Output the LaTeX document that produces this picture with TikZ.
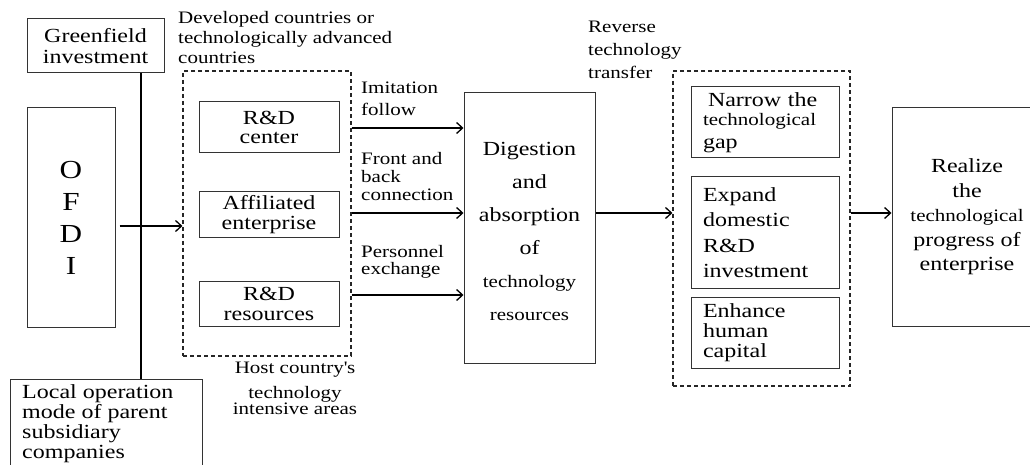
\documentclass[tikz,border=0pt]{standalone}
\usepackage{fontspec}
\setmainfont{Liberation Serif}[FakeStretch=1.2]
\usetikzlibrary{arrows.meta,calc}

\begin{document}
\begin{tikzpicture}[x=1pt,y=-1pt,
  box/.style={draw=black!80, line width=1pt, inner sep=0pt, align=center},
  area/.style={draw=black!85, line width=1.1pt, dash pattern=on 4pt off 3pt, inner sep=0pt},
  arr/.style={line width=1.4pt, -{Straight Barb[length=6pt,width=11pt,line width=1.3pt]}},
  lbl/.style={font=\fontsize{17.5}{20}\selectfont, inner sep=0pt, align=left, anchor=west},
]
\useasboundingbox (0,0) rectangle (1030,465);

% ---- left column: investment modes and OFDI
\node[box, minimum width=137, minimum height=54, font=\fontsize{20}{21}\selectfont]
  (green) at (95.5,46) {Greenfield\\investment};
\node[box, minimum width=88, minimum height=219, font=\fontsize{26}{32}\selectfont]
  (ofdi) at (71,217.5) {O\\F\\D\\I};
\node[box, minimum width=192, minimum height=100, anchor=north west] (local) at (10,379) {};
\node[anchor=north west, inner sep=0pt, align=left, font=\fontsize{20}{20.3}\selectfont]
  (localtext) at (22,384) {Local operation\\mode of parent\\subsidiary\\companies};
\coordinate (vx) at (141,0);
\draw[line width=1.4pt] (green.south -| vx) -- (local.north -| vx);

% ---- host country area
\node[area, minimum width=168, minimum height=285] (host) at (267,213.5) {};
\node[lbl] (devtxt) at (178,38) {Developed countries or\\technologically advanced\\countries};
\node[box, minimum width=140, minimum height=51, font=\fontsize{20}{18.5}\selectfont]
  (rdc) at (269,127.5) {R\&D\\center};
\node[box, minimum width=140, minimum height=45, font=\fontsize{20}{20}\selectfont]
  (aff) at (269,214.5) {Affiliated\\enterprise};
\node[box, minimum width=140, minimum height=45, font=\fontsize{20}{20}\selectfont]
  (res) at (269,303.5) {R\&D\\resources};
\node[font=\fontsize{17.5}{20}\selectfont, inner sep=0pt, align=center]
  (hosttxt) at (295,388) {Host country\textquotesingle s\\[5pt]technology\\[-4pt]intensive areas};

% ---- channels
\node[lbl] (imit) at (361,98.5) {Imitation\\[2pt]follow};
\node[lbl] (front) at (361,177) {Front and\\[-2pt]back\\[-2pt]connection};
\node[lbl] (pers) at (361,261.5) {Personnel\\[-3pt]exchange};

\node[box, minimum width=131, minimum height=270, font=\fontsize{20}{33}\selectfont]
  (dig) at (529.5,228) {\rule{0pt}{20pt}Digestion\\and\\absorption\\of\\{\fontsize{17.5}{33}\selectfont technology}\\{\fontsize{17.5}{33}\selectfont resources}};

\node[lbl] (rev) at (588,50) {Reverse\\[3pt]technology\\[3pt]transfer};

% ---- effects
\node[area, minimum width=177, minimum height=315] (tech) at (761.5,228.5) {};
\node[box, minimum width=148, minimum height=71, text width=124, align=left, font=\fontsize{20}{20}\selectfont]
  (narrow) at (765,122.5) {\hspace*{5pt}Narrow the\\[-1pt]{\fontsize{17.5}{20}\selectfont technological}\\[3pt]gap};
\node[box, minimum width=148, minimum height=111, text width=124, align=left, font=\fontsize{20}{25.5}\selectfont]
  (expand) at (765,232.5) {Expand\\domestic\\R\&D\\investment};
\node[box, minimum width=148, minimum height=71, text width=124, align=left, font=\fontsize{20}{20}\selectfont]
  (enhance) at (765,332.5) {Enhance\\human\\capital};

\node[box, minimum width=150, minimum height=218, font=\fontsize{20}{24.5}\selectfont]
  (real) at (967,217) {Realize\\the\\{\fontsize{17.5}{24.5}\selectfont technological}\\progress of\\enterprise};

% ---- connectors
\coordinate (l0) at (0,226);
\coordinate (l1) at (0,128);
\coordinate (l2) at (0,213);
\coordinate (l3) at (0,295);
\draw[arr] ($(ofdi.east |- l0)+(4,0)$) -- (host.west |- l0);
\draw[arr] (host.east |- l1) -- (dig.west |- l1);
\draw[arr] (host.east |- l2) -- (dig.west |- l2);
\draw[arr] (host.east |- l3) -- (dig.west |- l3);
\draw[arr] (dig.east |- l2) -- (tech.west |- l2);
\draw[arr] (tech.east |- l2) -- (real.west |- l2);
\end{tikzpicture}
\end{document}
